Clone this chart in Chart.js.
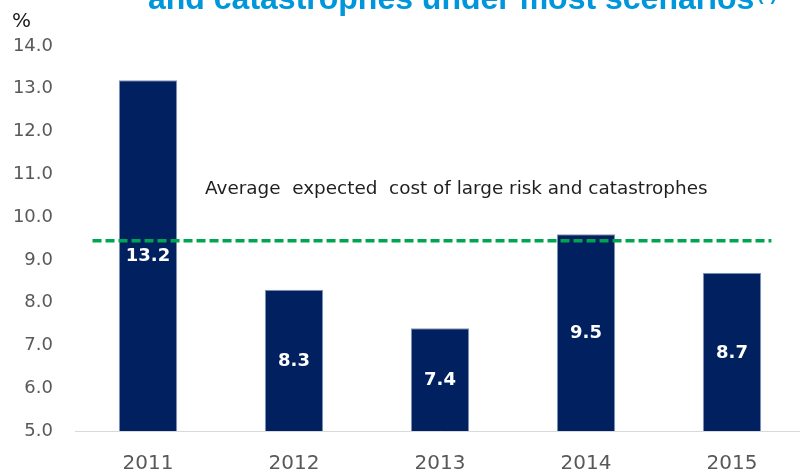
<!DOCTYPE html>
<html>
<head>
<meta charset="utf-8">
<script src="https://cdn.jsdelivr.net/npm/chart.js@4.4.0/dist/chart.umd.min.js"></script>
<style>
  html, body { margin: 0; padding: 0; background: #fff; overflow: hidden; }
  canvas { display: block; }
</style>
</head>
<body>
<canvas id="costChart" width="810" height="472"></canvas>
<script>
// data
const years = ["2011", "2012", "2013", "2014", "2015"];
const costValues = [13.2, 8.3, 7.4, 9.6, 8.7];
const costLabels = ["13.2", "8.3", "7.4", "9.5", "8.7"];
const averageCost = 9.45;
const yMin = 5, yMax = 14, yStep = 1;

const titleText = "and catastrophes under most scenarios";
const averageText = "Average  expected  cost of large risk and catastrophes";

// 🟩 dashed average line, bar labels, titles
const overlay = {
    id: "overlay",
    afterDatasetsDraw(chart) {
        const { ctx, scales: { x, y } } = chart;
        const step = x.getPixelForValue(1) - x.getPixelForValue(0);
        const yAvg = y.getPixelForValue(averageCost);

        ctx.save();
        ctx.strokeStyle = "#00a54f";
        ctx.lineWidth = 3.5;
        ctx.setLineDash([9, 4]);
        ctx.beginPath();
        ctx.moveTo(x.getPixelForValue(0) - 0.38 * step, yAvg);
        ctx.lineTo(x.getPixelForValue(years.length - 1) + 0.27 * step, yAvg);
        ctx.stroke();
        ctx.restore();

        // value labels in the middle of the visible bar
        const meta = chart.getDatasetMeta(0);
        const bottom = y.getPixelForValue(yMin);
        ctx.save();
        ctx.fillStyle = "#ffffff";
        ctx.font = "bold 18px 'DejaVu Sans'";
        ctx.textAlign = "center";
        ctx.textBaseline = "middle";
        meta.data.forEach((bar, i) => {
            ctx.fillText(costLabels[i], bar.x, (bar.y + bottom) / 2 + 1);
        });
        ctx.restore();
    },
    afterDraw(chart) {
        const { ctx } = chart;
        ctx.save();
        // clipped title line
        ctx.fillStyle = "#0096db";
        ctx.font = "bold 32px 'Liberation Sans'";
        ctx.textBaseline = "alphabetic";
        ctx.fillText(titleText, 148, 9);
        const w = ctx.measureText(titleText).width;
        ctx.font = "bold 18px 'Liberation Sans'";
        ctx.fillText("(*)", 148 + w + 3, 0);

        // unit
        ctx.fillStyle = "#1a1a1a";
        ctx.font = "20px 'DejaVu Sans'";
        ctx.fillText("%", 12, 27);

        // annotation
        ctx.fillStyle = "#1f1f1f";
        ctx.font = "18.4px 'DejaVu Sans'";
        ctx.fillText(averageText, 205, 194);
        ctx.restore();
    }
};

new Chart(document.getElementById("costChart"), {
    type: "bar",
    data: {
        labels: years,
        datasets: [{
            data: costValues,
            backgroundColor: "#002060",
            borderColor: "#8797b8",
            borderWidth: 1,
            barPercentage: 0.4,
            categoryPercentage: 1.0
        }]
    },
    options: {
        responsive: false,
        animation: false,
        layout: { padding: { top: 46, right: 5, left: 0, bottom: 0 } },
        plugins: {
            legend: { display: false },
            tooltip: { enabled: false }
        },
        scales: {
            x: {
                grid: { display: false, drawTicks: false },
                border: { display: true, color: "#d9d9d9", width: 1 },
                ticks: {
                    color: "#595959",
                    font: { family: "DejaVu Sans", size: 20 },
                    padding: 21
                },
                afterFit: (axis) => { axis.height = 41; }
            },
            y: {
                min: yMin,
                max: yMax,
                grid: { display: false, drawTicks: false },
                border: { display: false },
                ticks: {
                    stepSize: yStep,
                    color: "#595959",
                    font: { family: "DejaVu Sans", size: 18 },
                    padding: 22,
                    callback: (v) => Number(v).toFixed(1)
                },
                afterFit: (axis) => { axis.width = 75; }
            }
        }
    },
    plugins: [overlay]
});
</script>
</body>
</html>
